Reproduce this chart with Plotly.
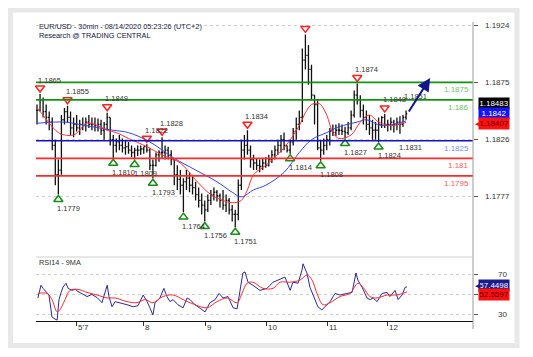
import plotly.graph_objects as go

# ---------------- data ----------------
high = [1.1856, 1.1865, 1.1862, 1.1856, 1.1850, 1.1845, 1.1826, 1.1809, 1.1847, 1.1853,
        1.1855, 1.1850, 1.1845, 1.1847, 1.1843, 1.1845, 1.1845, 1.1847, 1.1845, 1.1845,
        1.1844, 1.1843, 1.1841, 1.1849, 1.1845, 1.1830, 1.1827, 1.1830, 1.1827, 1.1826,
        1.1824, 1.1821, 1.1819, 1.1821, 1.1821, 1.1820, 1.1822, 1.1819, 1.1809, 1.1815,
        1.1817, 1.1828, 1.1821, 1.1820, 1.1817, 1.1810, 1.1804, 1.1800, 1.1793, 1.1800,
        1.1798, 1.1796, 1.1790, 1.1785, 1.1780, 1.1774, 1.1779, 1.1783, 1.1785, 1.1783,
        1.1780, 1.1783, 1.1779, 1.1776, 1.1770, 1.1766, 1.1792, 1.1826, 1.1830, 1.1834,
        1.1821, 1.1813, 1.1810, 1.1809, 1.1810, 1.1811, 1.1813, 1.1817, 1.1821, 1.1826,
        1.1830, 1.1832, 1.1821, 1.1826, 1.1836, 1.1845, 1.1851, 1.1904, 1.1916, 1.1907,
        1.1890, 1.1864, 1.1860, 1.1826, 1.1827, 1.1830, 1.1836, 1.1839, 1.1839, 1.1840,
        1.1839, 1.1837, 1.1841, 1.1851, 1.1868, 1.1874, 1.1864, 1.1856, 1.1851, 1.1847,
        1.1843, 1.1841, 1.1845, 1.1846, 1.1848, 1.1843, 1.1845, 1.1843, 1.1845, 1.1846,
        1.1847, 1.1851]
low = [1.1839, 1.1850, 1.1845, 1.1839, 1.1834, 1.1817, 1.1787, 1.1779, 1.1796, 1.1839,
       1.1841, 1.1830, 1.1828, 1.1833, 1.1830, 1.1834, 1.1833, 1.1836, 1.1834, 1.1833,
       1.1833, 1.1830, 1.1826, 1.1834, 1.1821, 1.1810, 1.1815, 1.1817, 1.1815, 1.1813,
       1.1814, 1.1811, 1.1809, 1.1812, 1.1813, 1.1814, 1.1815, 1.1800, 1.1793, 1.1803,
       1.1807, 1.1810, 1.1809, 1.1809, 1.1804, 1.1787, 1.1783, 1.1779, 1.1764, 1.1783,
       1.1781, 1.1779, 1.1774, 1.1768, 1.1762, 1.1756, 1.1764, 1.1770, 1.1774, 1.1773,
       1.1768, 1.1766, 1.1764, 1.1762, 1.1756, 1.1751, 1.1757, 1.1783, 1.1809, 1.1813,
       1.1802, 1.1800, 1.1800, 1.1798, 1.1800, 1.1802, 1.1803, 1.1806, 1.1809, 1.1813,
       1.1815, 1.1817, 1.1815, 1.1814, 1.1821, 1.1826, 1.1834, 1.1841, 1.1886, 1.1873,
       1.1860, 1.1839, 1.1817, 1.1808, 1.1813, 1.1817, 1.1821, 1.1829, 1.1829, 1.1830,
       1.1830, 1.1827, 1.1830, 1.1834, 1.1845, 1.1856, 1.1845, 1.1839, 1.1834, 1.1830,
       1.1826, 1.1826, 1.1824, 1.1836, 1.1836, 1.1833, 1.1834, 1.1832, 1.1834, 1.1831,
       1.1837, 1.1843]
close = [1.1851, 1.1860, 1.1850, 1.1845, 1.1841, 1.1821, 1.1796, 1.1800, 1.1843, 1.1850,
         1.1845, 1.1836, 1.1839, 1.1836, 1.1839, 1.1838, 1.1841, 1.1839, 1.1839, 1.1838,
         1.1839, 1.1834, 1.1839, 1.1845, 1.1826, 1.1821, 1.1824, 1.1821, 1.1819, 1.1820,
         1.1817, 1.1815, 1.1817, 1.1817, 1.1818, 1.1820, 1.1817, 1.1804, 1.1804, 1.1813,
         1.1815, 1.1815, 1.1817, 1.1813, 1.1809, 1.1796, 1.1792, 1.1787, 1.1790, 1.1793,
         1.1787, 1.1785, 1.1779, 1.1774, 1.1770, 1.1766, 1.1774, 1.1779, 1.1781, 1.1778,
         1.1774, 1.1770, 1.1774, 1.1766, 1.1762, 1.1762, 1.1787, 1.1817, 1.1821, 1.1817,
         1.1809, 1.1806, 1.1804, 1.1803, 1.1806, 1.1804, 1.1809, 1.1813, 1.1817, 1.1821,
         1.1826, 1.1821, 1.1817, 1.1824, 1.1833, 1.1839, 1.1845, 1.1894, 1.1898, 1.1886,
         1.1864, 1.1856, 1.1819, 1.1817, 1.1821, 1.1826, 1.1833, 1.1832, 1.1834, 1.1834,
         1.1833, 1.1832, 1.1836, 1.1847, 1.1864, 1.1860, 1.1851, 1.1845, 1.1839, 1.1836,
         1.1834, 1.1834, 1.1839, 1.1845, 1.1839, 1.1839, 1.1841, 1.1839, 1.1841, 1.1839,
         1.1845, 1.18483]

# moving averages on price (bar index, value)
ma_red_idx = [0, 2, 4, 7, 9, 12, 14, 16, 20, 23, 26, 30, 36, 41, 47, 52, 57, 61, 64, 67,
              69, 71, 75, 81, 86, 88, 90, 92, 93, 95, 97, 99, 103, 106, 109, 112, 116, 121]
ma_red = [1.1853, 1.1847, 1.1840, 1.1832, 1.1830, 1.1830, 1.1834, 1.1840, 1.1838, 1.1834,
          1.1832, 1.1827, 1.1820, 1.1813, 1.1806, 1.17915, 1.1779, 1.1774, 1.1772, 1.1774,
          1.1783, 1.1796, 1.1804, 1.1819, 1.1838, 1.1849, 1.1856, 1.1857, 1.1856, 1.1847,
          1.1832, 1.1827, 1.1830, 1.1841, 1.1847, 1.1841, 1.1838, 1.18407]
ma_blue_idx = [0, 9, 16, 25, 30, 37, 45, 52, 59, 64, 67, 71, 75, 81, 86, 90, 95, 99, 105,
               108, 113, 121]
ma_blue = [1.1840, 1.1841, 1.1838, 1.1834, 1.1832, 1.1824, 1.1810, 1.1800, 1.1790, 1.1781,
           1.1777, 1.1783, 1.1787, 1.1798, 1.1815, 1.1826, 1.1832, 1.1837, 1.1841, 1.1843,
           1.1838, 1.1842]

# support / resistance levels
level_vals = [1.1875, 1.186, 1.1825, 1.181, 1.1795]
level_text = ["1.1875", "1.186", "1.1825", "1.181", "1.1795"]
level_colors = ["#129312", "#129312", "#1212c8", "#ff2a2a", "#ff2a2a"]
level_text_colors = ["#6cc46c", "#6cc46c", "#7d8cf5", "#ff5a5a", "#ff5a5a"]

# swing highs / lows
peak_idx = [1, 10, 23, 36, 41, 69, 88, 105, 114]
peak_lbl = ["1.1865", "1.1855", "1.1849", "1.1822", "1.1828", "1.1834", "", "1.1874", "1.1848"]
trough_idx = [7, 25, 32, 38, 48, 55, 65, 83, 93, 101, 112]
trough_lbl = ["1.1779", "1.1810", "1.1809", "1.1793", "1.1764", "1.1756", "1.1751",
              "1.1814", "1.1808", "1.1827", "1.1824"]
extra_high_idx = [121]
extra_high_lbl = ["1.1851"]
extra_low_idx = [119]
extra_low_lbl = ["1.1831"]

# forecast arrow (bar index, price)
arrow_from = (121.6, 1.18488)
arrow_to = (128.9, 1.18787)

# RSI14 and its 9MA
rsi_idx = [0.3, 1.3, 2.0, 3.3, 3.9, 4.6, 4.9, 5.9, 6.6, 6.9, 7.2, 7.9, 8.5, 9.5, 10.2, 11.5,
           12.5, 13.4, 14.8, 16.4, 18.0, 19.7, 21.3, 22.3, 23.0, 23.6, 24.6, 25.6, 27.2, 29.5,
           31.5, 33.1, 34.8, 36.1, 37.0, 38.0, 38.7, 40.3, 41.6, 42.6, 43.6, 44.6, 46.2, 47.9,
           49.2, 50.2, 51.8, 54.1, 55.1, 56.7, 58.4, 59.7, 61.0, 62.6, 64.3, 65.6, 66.6, 67.5,
           68.2, 69.2, 70.8, 73.1, 75.4, 77.4, 79.0, 81.3, 83.0, 83.9, 85.6, 86.9, 87.2, 88.5,
           89.5, 91.1, 92.1, 93.4, 94.4, 96.1, 97.7, 99.3, 101.6, 103.3, 104.6, 105.2, 106.6,
           108.2, 109.2, 110.2, 111.5, 113.1, 114.8, 115.7, 117.4, 118.4, 119.7, 120.7, 121.3]
rsi = [46.6, 59, 56, 52, 49.5, 35, 28, 26, 25, 35, 45, 52, 57, 61, 56, 54,
       55, 53, 51, 48, 50, 47, 42, 51.5, 59, 48, 38, 43, 42, 40,
       38, 39, 49.5, 43, 37, 30, 42, 46.6, 56, 48, 43, 45, 40, 37,
       46.6, 45, 40, 35, 33, 42, 45, 51, 46.6, 48, 37, 36, 54, 71,
       72, 62, 59, 54, 56, 62, 64, 67, 54, 62, 61, 74, 80, 71,
       57, 45, 38, 35, 38, 43, 51, 49.5, 51, 52, 71, 64, 57,
       46.6, 45, 46.6, 43, 51, 52, 48, 54, 45, 49.5, 57, 57.4498]
rsi_ma_idx = [0.3, 3.3, 4.9, 6.6, 7.5, 9.2, 10.8, 13.4, 16.4, 19.7, 23.0, 25.6, 29.5, 32.8,
              35.4, 38.0, 41.3, 44.6, 47.9, 51.8, 55.7, 59.0, 62.3, 65.6, 67.2, 68.9, 70.8,
              74.1, 77.4, 79.7, 83.0, 86.2, 88.5, 90.2, 91.8, 93.8, 96.1, 99.3, 102.6, 105.2,
              106.9, 109.2, 111.5, 114.8, 118.0, 121.3]
rsi_ma = [51, 51, 45, 33, 35, 45, 54, 55, 52, 49.5, 46.6, 46.6, 43, 42,
          45, 42, 48, 49.5, 45, 40, 37, 43, 46.6, 42, 51, 61, 62,
          56, 56, 62, 62, 64, 69, 64, 51, 40, 42, 48, 51, 61,
          57, 48, 46.6, 49.5, 49.5, 52.5597]

price_ticks = [1.1924, 1.1875, 1.1826, 1.1777]
price_tick_text = ["1.1924", "1.1875", "1.1826", "1.1777"]
rsi_ticks = [70, 50, 30]
rsi_tick_text = ["70", "", "30"]
day_tick_idx = [12.8, 34.8, 55.1, 75.1, 95.1, 114.8]
day_tick_text = ["5'7", "8", "9", "10", "11", "12"]

last_price_box = "1.18483"
blue_ma_box = "1.1842"
red_ma_box = "1.18407"
rsi_box = "57.4498"
rsi_ma_box = "52.5597"

# ---------------- layout geometry ----------------
# the page body has an 8px default margin, so the figure is placed at (8, 8)
OFF = 8
PL, PR, PT, PB = 36, 473, 22, 321          # plot area on the page (px)
W, H = 533 - OFF, 357 - OFF
ML, MT = PL - OFF, PT - OFF
MR, MB = OFF + W - PR, OFF + H - PB
PW, PH = PR - PL, PB - PT
price_dom = [0.2308, 1.0]
rsi_dom = [0.0, 0.214]
price_range = [1.17299, 1.19266]
rsi_range = [24.1, 86.6]
x_range = [-0.33, 142.95]
ppx = (price_range[1] - price_range[0]) / ((price_dom[1] - price_dom[0]) * PH)


def px_x(x):
    return (x - PL) / PW


def px_y(y):
    return (PB - y) / PH


FONT = "Liberation Sans, Arial, sans-serif"
TXT = "#333333"

bars = list(range(len(close)))
open_ = [close[0]] + close[:-1]

fig = go.Figure()
fig.add_trace(go.Ohlc(
    x=bars, open=open_, high=high, low=low, close=close, xaxis="x2", yaxis="y",
    increasing=dict(line=dict(color="#111111", width=1.3)),
    decreasing=dict(line=dict(color="#111111", width=1.3)),
    tickwidth=0.4, showlegend=False, hoverinfo="skip"))
fig.add_trace(go.Scatter(x=ma_blue_idx, y=ma_blue, mode="lines", xaxis="x2", yaxis="y",
                         line=dict(color="#3344ee", width=1, shape="spline"), showlegend=False))
fig.add_trace(go.Scatter(x=ma_red_idx, y=ma_red, mode="lines", xaxis="x2", yaxis="y",
                         line=dict(color="#ff3030", width=1, shape="spline"), showlegend=False))

# swing markers
fig.add_trace(go.Scatter(
    x=peak_idx, y=[high[i] + 6 * ppx for i in peak_idx], mode="markers", xaxis="x2", yaxis="y",
    marker=dict(symbol="triangle-down-open", size=8, color="#ff2020", line=dict(width=1.5)),
    showlegend=False, cliponaxis=False))
fig.add_trace(go.Scatter(
    x=trough_idx, y=[low[i] - 5 * ppx for i in trough_idx], mode="markers", xaxis="x2", yaxis="y",
    marker=dict(symbol="triangle-up-open", size=8, color="#188c18", line=dict(width=1.5)),
    showlegend=False))

# RSI
fig.add_trace(go.Scatter(x=rsi_idx, y=rsi, mode="lines", xaxis="x", yaxis="y2",
                         line=dict(color="#2a2aa0", width=1), showlegend=False))
fig.add_trace(go.Scatter(x=rsi_ma_idx, y=rsi_ma, mode="lines", xaxis="x", yaxis="y2",
                         line=dict(color="#ff2a2a", width=1, shape="spline"), showlegend=False))

shapes = []
annotations = []
for v, c in zip(level_vals, level_colors):
    shapes.append(dict(type="line", xref="paper", yref="y", x0=0, x1=1, y0=v, y1=v,
                       line=dict(color=c, width=1.6)))
for v, t, c in zip(level_vals, level_text, level_text_colors):
    annotations.append(dict(xref="paper", yref="y", x=1, y=v, text=t, showarrow=False,
                            xanchor="right", yanchor="top", xshift=-2, yshift=-1,
                            font=dict(family=FONT, size=8, color=c)))

for i, t in zip(peak_idx + extra_high_idx, peak_lbl + extra_high_lbl):
    if t:
        annotations.append(dict(xref="x2", yref="y", x=i, y=high[i], text=t, showarrow=False,
                                xanchor="left", yanchor="middle", xshift=-4, yshift=14,
                                font=dict(family=FONT, size=7.5, color=TXT)))
for i, t in zip(trough_idx + extra_low_idx, trough_lbl + extra_low_lbl):
    annotations.append(dict(xref="x2", yref="y", x=i, y=low[i], text=t, showarrow=False,
                            xanchor="left", yanchor="middle", xshift=-3, yshift=-14,
                            font=dict(family=FONT, size=7.5, color=TXT)))

annotations.append(dict(xref="x2", yref="y", axref="x2", ayref="y",
                        x=arrow_to[0], y=arrow_to[1], ax=arrow_from[0], ay=arrow_from[1],
                        text="", showarrow=True, arrowhead=2, arrowsize=1.3, arrowwidth=2,
                        arrowcolor="#14148c"))

# axis tick labels (right side)
for v, t in zip(price_ticks, price_tick_text):
    annotations.append(dict(xref="paper", yref="y", x=1, y=v, text=t, showarrow=False,
                            xanchor="left", yanchor="middle", xshift=10,
                            font=dict(family=FONT, size=8, color=TXT)))
for v, t in zip(rsi_ticks, rsi_tick_text):
    if t:
        annotations.append(dict(xref="paper", yref="y2", x=1, y=v, text=t, showarrow=False,
                                xanchor="left", yanchor="middle", xshift=23,
                                font=dict(family=FONT, size=8, color=TXT)))


# value boxes
def box(text, yref, y, yshift, bg, fg, pointer=False):
    annotations.append(dict(xref="paper", yref=yref, x=1, y=y, text=text, showarrow=False,
                            xanchor="left", yanchor="middle", xshift=5, yshift=yshift,
                            bgcolor=bg, width=28, borderpad=1,
                            font=dict(family=FONT, size=8, color=fg)))
    if pointer:
        annotations.append(dict(xref="paper", yref=yref, x=1, y=y, text="◀", showarrow=False,
                                xanchor="left", yanchor="middle", xshift=0, yshift=yshift,
                                font=dict(family=FONT, size=7, color=bg)))


box(last_price_box, "y", close[-1], 10, "#000000", "#ffffff")
box(blue_ma_box, "y", ma_blue[-1], 7, "#1414ff", "#ffffff")
box(red_ma_box, "y", ma_red[-1], -1, "#ff1010", "#5a0000", pointer=True)
box(rsi_box, "y2", rsi[-1], 1, "#1a1a8a", "#ffffff", pointer=True)
box(rsi_ma_box, "y2", rsi_ma[-1], -3, "#ff1010", "#5a0000")

# day tick labels
for i, t in zip(day_tick_idx, day_tick_text):
    annotations.append(dict(xref="x", yref="paper", x=i, y=px_y(327), text=t, showarrow=False,
                            xanchor="left", yanchor="middle", xshift=0,
                            font=dict(family=FONT, size=8, color=TXT)))

# titles
annotations.append(dict(xref="paper", yref="paper", x=px_x(37), y=px_y(27),
                        text="EUR/USD - 30min - 08/14/2020 05:23:26 (UTC+2)", showarrow=False,
                        xanchor="left", yanchor="middle",
                        font=dict(family=FONT, size=7.3, color="#222244")))
annotations.append(dict(xref="paper", yref="paper", x=px_x(37), y=px_y(35.5),
                        text="Research @ TRADING CENTRAL", showarrow=False,
                        xanchor="left", yanchor="middle",
                        font=dict(family=FONT, size=7.3, color="#14143c")))
annotations.append(dict(xref="paper", yref="paper", x=px_x(37), y=px_y(262),
                        text="RSI14 - 9MA", showarrow=False,
                        xanchor="left", yanchor="middle", font=dict(family=FONT, size=7.3, color=TXT)))

# frame, axis line, panel separator
shapes.append(dict(type="rect", xref="paper", yref="paper",
                   x0=px_x(10.5), x1=px_x(517), y0=px_y(345.5), y1=px_y(10),
                   line=dict(color="#e8e8e8", width=5), layer="below"))
shapes.append(dict(type="line", xref="paper", yref="paper", x0=1, x1=1,
                   y0=px_y(329), y1=1, line=dict(color="#9a9a9a", width=1)))
shapes.append(dict(type="line", xref="paper", yref="paper", x0=0, x1=1,
                   y0=rsi_dom[1], y1=rsi_dom[1], line=dict(color="#cfcfcf", width=1)))

grid = dict(showgrid=True, gridcolor="#cfcfcf", griddash="dot", gridwidth=1, zeroline=False)
fig.update_layout(
    width=W, height=H, margin=dict(l=ML, r=MR, t=MT, b=MB, pad=0, autoexpand=False),
    paper_bgcolor="white", plot_bgcolor="white", showlegend=False,
    xaxis=dict(domain=[0, 1], anchor="y2", range=x_range, showline=True, linecolor="#111111",
               linewidth=1, ticks="outside", ticklen=4, tickcolor="#333333", tickvals=day_tick_idx,
               showticklabels=False, showgrid=False, zeroline=False,
               rangeslider=dict(visible=False)),
    xaxis2=dict(domain=[0, 1], anchor="y", matches="x", visible=False,
                rangeslider=dict(visible=False)),
    yaxis=dict(domain=price_dom, anchor="x2", side="right", range=price_range,
               tickvals=price_ticks, ticks="outside", ticklen=4, showticklabels=False,
               tickcolor="#555555", showline=False, **grid),
    yaxis2=dict(domain=rsi_dom, anchor="x", side="right", range=rsi_range,
                tickvals=rsi_ticks, ticks="outside", ticklen=4, showticklabels=False,
                tickcolor="#555555", showline=False, **grid),
    shapes=shapes, annotations=annotations,
)

fig.write_html("out.html")
